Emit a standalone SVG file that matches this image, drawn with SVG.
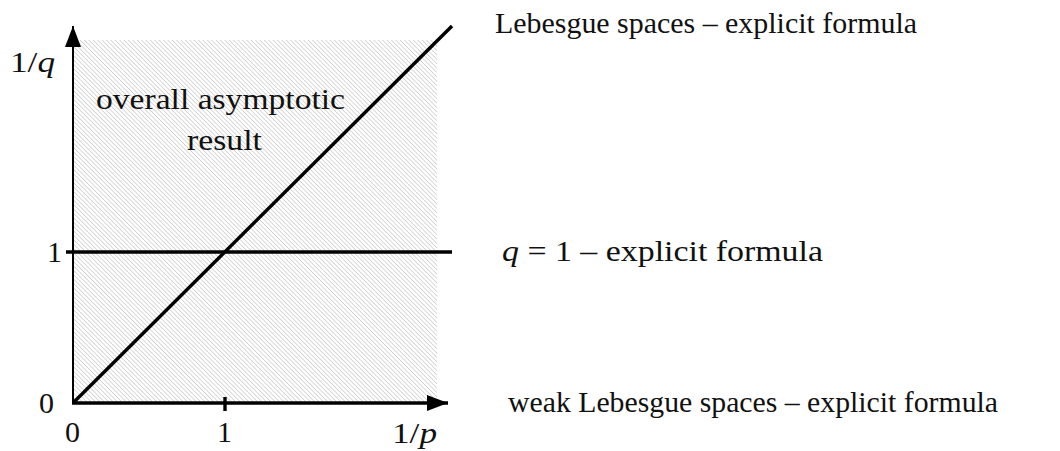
<svg xmlns="http://www.w3.org/2000/svg" width="1060" height="451" viewBox="0 0 1060 451">
<style>
text{font-family:"Liberation Serif","DejaVu Serif",serif;font-size:30px;fill:#111}
.it{font-style:italic}
.ax{stroke:#000;stroke-width:2;fill:none}
.thick{stroke:#000;stroke-width:3.4;fill:none}
</style>
<defs>
<pattern id="hatch" patternUnits="userSpaceOnUse" width="3.1" height="3.1" patternTransform="rotate(-45)">
<line x1="0" y1="-1" x2="0" y2="5" stroke="#ababab" stroke-width="0.9"/>
</pattern>
<marker id="arr" viewBox="0 0 10 10" refX="10" refY="5" markerWidth="21" markerHeight="16" markerUnits="userSpaceOnUse" orient="auto" preserveAspectRatio="none">
<path d="M0,0 L10,5 L0,10 z" fill="#000"/>
</marker>
</defs>
<g id="region">
<rect x="73" y="40" width="364" height="363" fill="url(#hatch)"/>
</g>
<g id="connectors">
<line class="thick" x1="73" y1="403" x2="452" y2="26"/>
<line class="thick" x1="66" y1="252" x2="452" y2="252"/>
<line class="ax" x1="73" y1="404" x2="73" y2="26" marker-end="url(#arr)"/>
<line class="thick" x1="72" y1="403" x2="448" y2="403" marker-end="url(#arr)"/>
<line class="thick" x1="225" y1="397" x2="225" y2="411"/>
</g>
<g id="labels">
<text x="10" y="72" textLength="45" lengthAdjust="spacingAndGlyphs">1/<tspan class="it">q</tspan></text>
<text x="47" y="262">1</text>
<text x="39" y="413">0</text>
<text x="65" y="442">0</text>
<text x="217" y="442">1</text>
<text x="392" y="443" textLength="45" lengthAdjust="spacingAndGlyphs">1/<tspan class="it">p</tspan></text>
<text x="96" y="109" textLength="249" lengthAdjust="spacingAndGlyphs">overall asymptotic</text>
<text x="187" y="150" textLength="75" lengthAdjust="spacingAndGlyphs">result</text>
</g>
<g id="descriptions">
<text x="495" y="33" textLength="422" lengthAdjust="spacingAndGlyphs">Lebesgue spaces – explicit formula</text>
<text x="502" y="261" textLength="321" lengthAdjust="spacingAndGlyphs"><tspan class="it">q</tspan> = 1 – explicit formula</text>
<text x="508" y="412" textLength="490" lengthAdjust="spacingAndGlyphs">weak Lebesgue spaces – explicit formula</text>
</g>
</svg>
